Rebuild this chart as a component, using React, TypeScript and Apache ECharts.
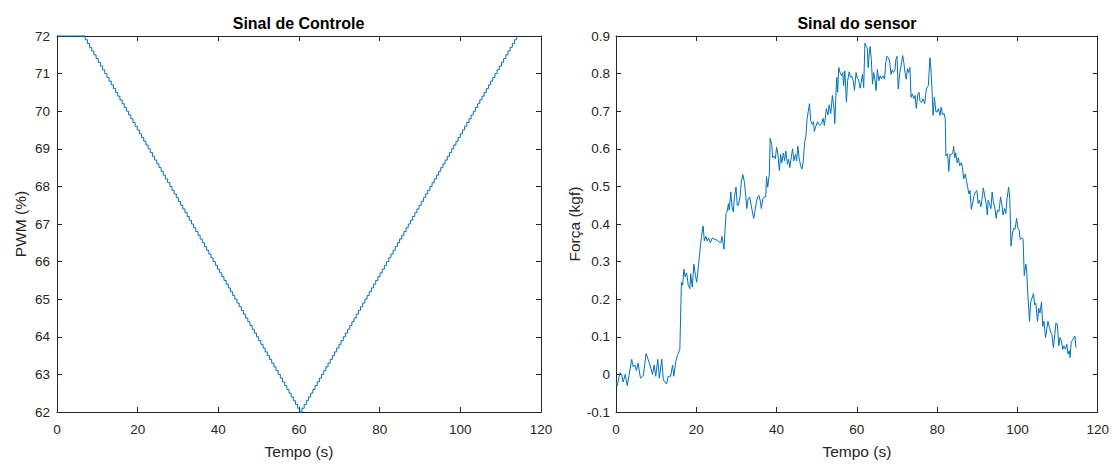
import { useEffect, useRef } from "react";
import * as echarts from "echarts";

const FONT = "'Liberation Sans', Arial, Helvetica, sans-serif";
const AXIS_COLOR = "#262626";
const LINE_COLOR = "#0072BD";

const titles = ["Sinal de Controle", "Sinal do sensor"];
const xLabel = "Tempo (s)";
const yLabels = ["PWM (%)", "Força (kgf)"];

const timeMin = 0;
const timeMax = 120;
const timeInterval = 20;
const pwmMin = 62;
const pwmMax = 72;
const pwmInterval = 1;
const forceMin = -0.1;
const forceMax = 0.9;
const forceInterval = 0.1;

// Control signal: held at 72 % until pwmHoldUntil, then one 0.1 % step per sample
const pwmHoldUntil = 7.0;
const pwmSamplePeriod = 0.5375;
const pwmLevels = [
  72,
  71.9, 71.8, 71.7, 71.6, 71.5, 71.4, 71.3, 71.2, 71.1, 71,
  70.9, 70.8, 70.7, 70.6, 70.5, 70.4, 70.3, 70.2, 70.1, 70,
  69.9, 69.8, 69.7, 69.6, 69.5, 69.4, 69.3, 69.2, 69.1, 69,
  68.9, 68.8, 68.7, 68.6, 68.5, 68.4, 68.3, 68.2, 68.1, 68,
  67.9, 67.8, 67.7, 67.6, 67.5, 67.4, 67.3, 67.2, 67.1, 67,
  66.9, 66.8, 66.7, 66.6, 66.5, 66.4, 66.3, 66.2, 66.1, 66,
  65.9, 65.8, 65.7, 65.6, 65.5, 65.4, 65.3, 65.2, 65.1, 65,
  64.9, 64.8, 64.7, 64.6, 64.5, 64.4, 64.3, 64.2, 64.1, 64,
  63.9, 63.8, 63.7, 63.6, 63.5, 63.4, 63.3, 63.2, 63.1, 63,
  62.9, 62.8, 62.7, 62.6, 62.5, 62.4, 62.3, 62.2, 62.1, 62,
  62.1, 62.2, 62.3, 62.4, 62.5, 62.6, 62.7, 62.8, 62.9, 63,
  63.1, 63.2, 63.3, 63.4, 63.5, 63.6, 63.7, 63.8, 63.9, 64,
  64.1, 64.2, 64.3, 64.4, 64.5, 64.6, 64.7, 64.8, 64.9, 65,
  65.1, 65.2, 65.3, 65.4, 65.5, 65.6, 65.7, 65.8, 65.9, 66,
  66.1, 66.2, 66.3, 66.4, 66.5, 66.6, 66.7, 66.8, 66.9, 67,
  67.1, 67.2, 67.3, 67.4, 67.5, 67.6, 67.7, 67.8, 67.9, 68,
  68.1, 68.2, 68.3, 68.4, 68.5, 68.6, 68.7, 68.8, 68.9, 69,
  69.1, 69.2, 69.3, 69.4, 69.5, 69.6, 69.7, 69.8, 69.9, 70,
  70.1, 70.2, 70.3, 70.4, 70.5, 70.6, 70.7, 70.8, 70.9, 71,
  71.1, 71.2, 71.3, 71.4, 71.5, 71.6, 71.7, 71.8, 71.9, 72,
];

// Sensor signal [time (s), force (kgf)]
const sensorReadings: [number, number][] = [
  [0.0, -0.02], [0.3, -0.03], [1.0, 0.005], [1.4, 0.0], [1.8, -0.02], [2.3, 0.0], [2.8, -0.03],
  [3.3, 0.0], [3.9, 0.04], [4.3, 0.02], [4.7, 0.025], [5.1, 0.01], [5.5, 0.03], [6.1, -0.01],
  [6.8, -0.003], [7.5, 0.055], [8.0, 0.04], [8.6, 0.02], [9.1, 0.0], [9.5, 0.025], [9.9, -0.005],
  [10.4, 0.04], [10.8, -0.01], [11.4, 0.04], [11.8, -0.015], [12.2, -0.02], [12.6, -0.025],
  [13.0, -0.005], [13.6, -0.005], [14.1, 0.025], [14.4, -0.005], [14.9, 0.035], [15.3, 0.05],
  [15.9, 0.067],
  [16.3, 0.245], [16.6, 0.237], [16.9, 0.28], [17.2, 0.26], [17.6, 0.27], [18.0, 0.237],
  [18.4, 0.228], [18.6, 0.268], [19.0, 0.232], [19.4, 0.293], [19.8, 0.263], [20.1, 0.245],
  [20.5, 0.285], [20.9, 0.328], [21.3, 0.367], [21.7, 0.395], [22.0, 0.355], [22.4, 0.367],
  [22.7, 0.355], [23.1, 0.363], [23.5, 0.35], [24.0, 0.363], [24.6, 0.359], [25.2, 0.357],
  [25.7, 0.352], [26.1, 0.35], [26.4, 0.367], [26.9, 0.333],
  [27.1, 0.372], [27.4, 0.428], [27.7, 0.433], [28.0, 0.454], [28.2, 0.437], [28.6, 0.485],
  [28.9, 0.446], [29.2, 0.433], [29.5, 0.472], [29.9, 0.498], [30.2, 0.45], [30.5, 0.45],
  [30.9, 0.472], [31.2, 0.511], [31.6, 0.531], [32.0, 0.511], [32.3, 0.476], [32.6, 0.441],
  [32.9, 0.467], [33.3, 0.472], [33.6, 0.454], [33.9, 0.437], [34.3, 0.415], [34.6, 0.433],
  [34.9, 0.454], [35.3, 0.472], [35.6, 0.476], [35.9, 0.463], [36.2, 0.441], [36.6, 0.467],
  [36.9, 0.472],
  [37.3, 0.472], [37.5, 0.526], [37.8, 0.498], [38.2, 0.533], [38.4, 0.628], [38.8, 0.611],
  [39.0, 0.576], [39.3, 0.581], [39.7, 0.574], [40.0, 0.604], [40.3, 0.589], [40.7, 0.542],
  [41.0, 0.585], [41.3, 0.563], [41.7, 0.589], [42.0, 0.568], [42.3, 0.594], [42.7, 0.559],
  [43.0, 0.572], [43.3, 0.55], [43.7, 0.581], [44.0, 0.6], [44.3, 0.568], [44.7, 0.585],
  [45.0, 0.568], [45.3, 0.607], [45.6, 0.576], [46.0, 0.555], [46.3, 0.546], [46.6, 0.563],
  [47.0, 0.618], [47.3, 0.633], [47.6, 0.679],
  [47.9, 0.70], [48.2, 0.72], [48.5, 0.675], [48.9, 0.665], [49.2, 0.672], [49.4, 0.646],
  [49.8, 0.66], [50.2, 0.672], [50.5, 0.665],
  [50.8, 0.662], [51.2, 0.667], [51.6, 0.681], [51.9, 0.662], [52.4, 0.707], [52.8, 0.69],
  [53.1, 0.717], [53.5, 0.694], [53.9, 0.742], [54.3, 0.707], [54.5, 0.667], [54.8, 0.75],
  [55.0, 0.79], [55.2, 0.75], [55.5, 0.816], [55.8, 0.803], [56.2, 0.794], [56.5, 0.803],
  [56.7, 0.768], [57.0, 0.807], [57.4, 0.724], [57.7, 0.781], [58.1, 0.805], [58.4, 0.79],
  [58.7, 0.794], [59.1, 0.781], [59.4, 0.755], [59.8, 0.803], [60.1, 0.787], [60.4, 0.785],
  [60.8, 0.761], [61.1, 0.777], [61.4, 0.798], [61.7, 0.763], [62.0, 0.881], [62.3, 0.872],
  [62.6, 0.868], [62.8, 0.816], [63.1, 0.855], [63.3, 0.872], [63.6, 0.837], [63.9, 0.772],
  [64.2, 0.803], [64.6, 0.777], [64.8, 0.755], [65.1, 0.811], [65.5, 0.781], [65.8, 0.794],
  [66.1, 0.787], [66.5, 0.794], [66.9, 0.785], [67.2, 0.829], [67.5, 0.846], [67.9, 0.842],
  [68.2, 0.829], [68.5, 0.798], [68.8, 0.81], [69.1, 0.803], [69.5, 0.811], [69.7, 0.837],
  [70.0, 0.846], [70.3, 0.759], [70.7, 0.803], [71.0, 0.82], [71.4, 0.848], [71.7, 0.829],
  [72.0, 0.803], [72.3, 0.785], [72.6, 0.813], [72.9, 0.803], [73.2, 0.816], [73.5, 0.737],
  [73.8, 0.746], [74.2, 0.733], [74.5, 0.742], [74.8, 0.707], [75.2, 0.746], [75.5, 0.75],
  [75.7, 0.728], [76.1, 0.723], [76.5, 0.733], [76.9, 0.72], [77.3, 0.759], [77.8, 0.768],
  [78.2, 0.842], [78.4, 0.82], [78.7, 0.759], [79.0, 0.689], [79.3, 0.737], [79.7, 0.698],
  [80.0, 0.698], [80.3, 0.707], [80.7, 0.689], [81.0, 0.711], [81.3, 0.691], [81.7, 0.694],
  [82.0, 0.681], [82.2, 0.581], [82.6, 0.587], [82.9, 0.54], [83.2, 0.585], [83.6, 0.585],
  [83.9, 0.589], [84.1, 0.607], [84.4, 0.576], [84.6, 0.589], [85.0, 0.563], [85.3, 0.576],
  [85.6, 0.555], [86.0, 0.563], [86.3, 0.55], [86.6, 0.52], [87.0, 0.533], [87.3, 0.515],
  [87.6, 0.498], [87.9, 0.48], [88.2, 0.489], [88.5, 0.439], [88.9, 0.459], [89.2, 0.476],
  [89.5, 0.485], [89.9, 0.489], [90.2, 0.455], [90.5, 0.463], [90.9, 0.446], [91.2, 0.468],
  [91.5, 0.496], [91.9, 0.472], [92.2, 0.455], [92.5, 0.424], [92.7, 0.463], [93.0, 0.455],
  [93.4, 0.441], [93.7, 0.485], [94.0, 0.459], [94.4, 0.441], [94.7, 0.415], [95.0, 0.437],
  [95.4, 0.433],
  [95.8, 0.472], [96.1, 0.455], [96.4, 0.424], [96.8, 0.441], [97.1, 0.428], [97.4, 0.467],
  [97.8, 0.498], [98.1, 0.467], [98.4, 0.341], [98.75, 0.376], [99.1, 0.389], [99.4, 0.386],
  [99.8, 0.415], [100.1, 0.389], [100.4, 0.385], [100.7, 0.359], [101.1, 0.363], [101.4, 0.359],
  [101.7, 0.263], [102.1, 0.293], [102.3, 0.276], [102.6, 0.211], [103.0, 0.141], [103.3, 0.193],
  [103.6, 0.202], [104.0, 0.215], [104.3, 0.185], [104.6, 0.189], [105.0, 0.141], [105.3, 0.176],
  [105.6, 0.163], [106.0, 0.193], [106.3, 0.128], [106.6, 0.141], [107.0, 0.098], [107.3, 0.12],
  [107.6, 0.141], [108.0, 0.124], [108.3, 0.111], [108.6, 0.106], [108.95, 0.071], [109.3, 0.106],
  [109.6, 0.137], [109.95, 0.132], [110.3, 0.076], [110.6, 0.098], [110.95, 0.089], [111.3, 0.067],
  [111.6, 0.076], [111.95, 0.067], [112.3, 0.08], [112.6, 0.054], [112.9, 0.063], [113.1, 0.045],
  [113.4, 0.085], [113.8, 0.093], [114.1, 0.098], [114.3, 0.102], [114.6, 0.071],
];

const pwmData = pwmLevels.map((v, i) => [
  i === 0 ? 0 : pwmHoldUntil + (i - 1) * pwmSamplePeriod,
  v,
]);

const tickLabelStyle = { color: AXIS_COLOR, fontSize: 13.5, fontFamily: FONT };
const nameStyle = { color: AXIS_COLOR, fontSize: 15.5, fontFamily: FONT };
const axisLine = { show: true, onZero: false, lineStyle: { color: AXIS_COLOR, width: 1 } };
const axisTick = { show: true, inside: true, length: 5, lineStyle: { color: AXIS_COLOR, width: 1 } };

function xAxes(grid: number) {
  const base = {
    gridIndex: grid,
    type: "value",
    min: timeMin,
    max: timeMax,
    interval: timeInterval,
    axisLine,
    axisTick,
    splitLine: { show: false },
  };
  return [
    {
      ...base,
      position: "bottom",
      axisLabel: { ...tickLabelStyle, margin: 10 },
      name: xLabel,
      nameLocation: "middle",
      nameGap: 31,
      nameTextStyle: nameStyle,
    },
    { ...base, position: "top", axisLabel: { show: false } },
  ];
}

function yAxes(grid: number, min: number, max: number, interval: number, name: string, fmt: (v: number) => string, nameGap: number, margin: number) {
  const base = {
    gridIndex: grid,
    type: "value",
    min,
    max,
    interval,
    axisLine,
    axisTick,
    splitLine: { show: false },
  };
  return [
    {
      ...base,
      position: "left",
      axisLabel: { ...tickLabelStyle, margin, formatter: fmt },
      name,
      nameLocation: "middle",
      nameGap,
      nameTextStyle: nameStyle,
    },
    { ...base, position: "right", axisLabel: { show: false } },
  ];
}

const titleStyle = {
  align: "center",
  verticalAlign: "middle",
  textAlign: "center",
  textVerticalAlign: "middle",
  fontSize: 16,
  fontWeight: "bold",
  fontFamily: FONT,
  fill: "#000000",
};

const option = {
  animation: false,
  backgroundColor: "#ffffff",
  grid: [
    { left: 57, right: 571, top: 36, bottom: 45 },
    { left: 616, right: 14, top: 36, bottom: 45 },
  ],
  xAxis: [...xAxes(0), ...xAxes(1)],
  yAxis: [
    ...yAxes(0, pwmMin, pwmMax, pwmInterval, yLabels[0], (v: number) => String(Math.round(v)), 29, 7),
    ...yAxes(1, forceMin, forceMax, forceInterval, yLabels[1], (v: number) => String(Number(v.toFixed(1))), 30, 6),
  ],
  graphic: [
    { type: "text", x: 298.5, y: 23, style: { ...titleStyle, text: titles[0] } },
    { type: "text", x: 857, y: 23, style: { ...titleStyle, text: titles[1] } },
  ],
  series: [
    {
      type: "line",
      xAxisIndex: 0,
      yAxisIndex: 0,
      data: pwmData,
      step: "end",
      showSymbol: false,
      symbol: "none",
      clip: false,
      lineStyle: { color: LINE_COLOR, width: 1 },
    },
    {
      type: "line",
      xAxisIndex: 2,
      yAxisIndex: 2,
      data: sensorReadings,
      showSymbol: false,
      symbol: "none",
      clip: false,
      lineStyle: { color: LINE_COLOR, width: 1 },
    },
  ],
};

export default function App() {
  const ref = useRef<HTMLDivElement>(null);
  useEffect(() => {
    document.body.style.margin = "0";
    document.body.style.overflow = "hidden";
    const chart = echarts.init(ref.current!, null, { renderer: "svg", width: 1112, height: 464 });
    chart.setOption(option as any);
    return () => chart.dispose();
  }, []);
  return <div ref={ref} style={{ width: 1112, height: 464, background: "#ffffff" }} />;
}
